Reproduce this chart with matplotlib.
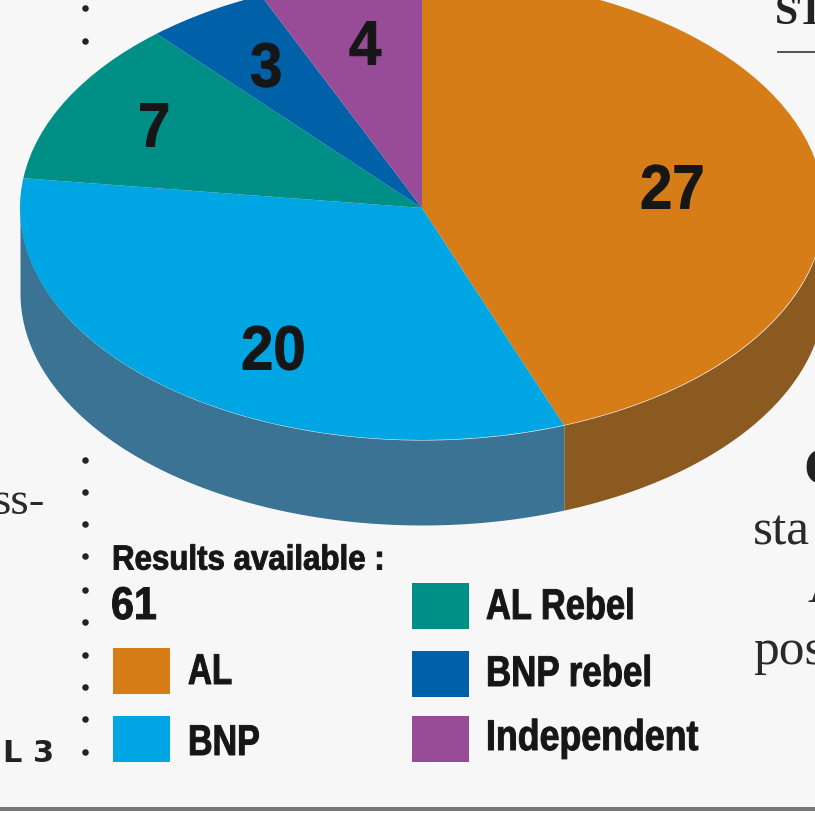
import numpy as np
import matplotlib
matplotlib.use("Agg")
import matplotlib.pyplot as plt
from matplotlib.patches import Rectangle
from matplotlib.patheffects import AbstractPathEffect
from matplotlib.transforms import Affine2D

W, H = 815, 813
BG = "#f7f7f7"
INK = "#161616"

# data
parties = ["AL", "BNP", "AL Rebel", "BNP rebel", "Independent"]
seats = [27, 20, 7, 3, 4]
top_colors = ["#d67d17", "#00a5e3", "#008f86", "#0060a8", "#984b96"]
side_colors = ["#8a5a20", "#3a7393", "#00665f", "#00467a", "#6c356b"]
total_label = "61"
heading = "Results available :"

sans = ["Liberation Sans", "DejaVu Sans"]
serif = ["Liberation Serif", "DejaVu Serif"]


# no condensed face installed, so squeeze the glyphs sideways from the left edge
# and thicken them a little with a stroke
class Squeeze(AbstractPathEffect):
    def __init__(self, sx, stroke=0.7):
        super().__init__()
        self.sx = sx
        self.stroke = stroke

    def draw_path(self, renderer, gc, tpath, affine, rgbFace=None):
        gc0 = renderer.new_gc()
        gc0.copy_properties(gc)
        gc0.set_foreground(rgbFace)
        gc0.set_linewidth(self.stroke)
        renderer.draw_path(gc0, tpath, Affine2D().scale(self.sx, 1) + affine, rgbFace)
        gc0.restore()


fig = plt.figure(figsize=(W / 100, H / 100), dpi=100, facecolor=BG)

# pie geometry in pixels
cx, cy, rx, ry, depth = 422, 208, 402, 232, 85
ax = fig.add_axes([(cx - rx) / W, 1 - (cy + ry + depth) / H,
                   2 * rx / W, (2 * ry + depth) / H])
d = depth / ry

# side wall first, only the part of each slice facing front
start = 90.0
for val, col in zip(seats, side_colors):
    end = start - val / sum(seats) * 360
    lo, hi = max(end, -180), min(start, 0)
    if lo < hi:
        t = np.radians(np.linspace(lo, hi, 100))
        ax.fill_between(np.cos(t), np.sin(t), np.sin(t) - d, color=col, lw=0)
    start = end

ax.pie(seats, colors=top_colors, startangle=90, counterclock=False, radius=1,
       wedgeprops={"linewidth": 0})
ax.set_aspect("auto")
ax.set_xlim(-1, 1)
ax.set_ylim(-1 - d, 1)
ax.axis("off")

# overlay in pixel coordinates
ov = fig.add_axes([0, 0, 1, 1], facecolor="none")
ov.set_xlim(0, W)
ov.set_ylim(H, 0)
ov.axis("off")


def narrow_text(x, y, s, size, sx):
    t = ov.text(x, y, s, family=sans, weight="bold", fontsize=size,
                color=INK, ha="left", va="center")
    t.set_path_effects([Squeeze(sx)])


# value labels
label_pos = [(640, 192), (241, 353), (138, 130), (250, 70), (349, 48)]
for val, (x, y) in zip(seats, label_pos):
    narrow_text(x, y, str(val), 45, 0.93)

# legend
swatches = [(113, 648), (113, 716), (412, 583), (412, 651), (412, 716)]
text_x = [188, 188, 486, 486, 486]
text_y = [673, 744, 608, 675, 739]
squeeze_x = [0.77, 0.79, 0.80, 0.81, 0.83]
for name, col, (x, y), tx, ty, sx in zip(parties, top_colors, swatches, text_x, text_y, squeeze_x):
    ov.add_patch(Rectangle((x, y), 57, 46, color=col, lw=0))
    narrow_text(tx, ty, name, 31, sx)

narrow_text(112, 560, heading, 25, 0.9)
narrow_text(111, 607, total_label, 33, 0.9)

# dotted column rule
dot_y = [8, 41, 460, 492, 524, 556, 590, 622, 655, 687, 719, 752]
ov.scatter([85] * len(dot_y), dot_y, s=22, color="#222222", lw=0)

# neighbouring newspaper text, cut off by the crop
ov.text(775, 14, "ST", family=serif, weight="bold", fontsize=30, color="#222222", va="center")
ov.plot([778, 815], [52, 52], color="#444444", lw=1.3)
ov.text(-8, 503, "ss-", family=serif, fontsize=34, color="#2a2a2a", va="center")
ov.text(3, 753, "L 3", family="DejaVu Sans", weight="bold", fontsize=22, color="#222222", va="center")
ov.text(753, 532, "sta", family=serif, fontsize=37, color="#2a2a2a", va="center")
ov.text(753, 652, "pos", family=serif, fontsize=37, color="#2a2a2a", va="center")
ov.text(803, 470, "C", family=serif, weight="bold", fontsize=38, color="#222222", va="center")
ov.text(808, 590, "A", family=serif, fontsize=36, color="#2a2a2a", va="center")

# bottom rule
ov.add_patch(Rectangle((0, 807), W, 4, color="#777777", lw=0))
ov.add_patch(Rectangle((0, 811), W, 2, color="#ffffff", lw=0))

fig.savefig("out.png", dpi=100, facecolor=BG)
